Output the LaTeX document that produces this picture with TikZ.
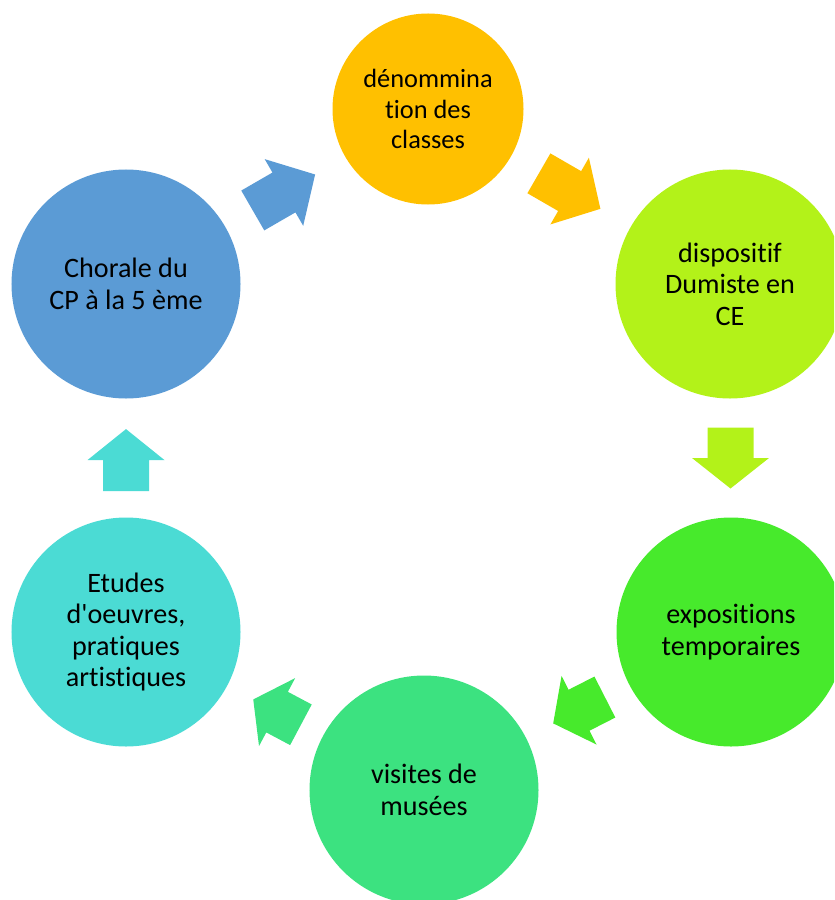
\documentclass[tikz,border=0pt]{standalone}
\usepackage{fontspec}
\setmainfont{Carlito}[Ligatures={NoCommon}]
\usepackage{tikz}
\usetikzlibrary{calc}
\definecolor{cblue}{RGB}{91,155,213}
\definecolor{corange}{RGB}{255,192,0}
\definecolor{clime}{RGB}{179,242,25}
\definecolor{cgreen}{RGB}{71,234,44}
\definecolor{cmint}{RGB}{60,226,128}
\definecolor{cteal}{RGB}{75,219,212}
\tikzset{
  bubble/.style={circle,draw=none,minimum size=6.87cm,inner sep=0pt,
    align=center,font=\fontsize{24}{27}\selectfont},
  smallbubble/.style={minimum size=5.73cm,font=\fontsize{22.5}{26}\selectfont},
  % block arrows between the bubbles, #1 = half length (px)
  pics/flow/.style={code={
    \fill[pic actions] (-#1,-23) -- (0,-23) -- (0,-38.5) -- (#1,0)
      -- (0,38.5) -- (0,23) -- (-#1,23) -- cycle;}}
}

\begin{document}
\begin{tikzpicture}[x=0.03cm,y=0.03cm]
\clip (0,0) rectangle (834,-900);
% ---------------- bubbles ----------------
\node[bubble,smallbubble,fill=corange] (denom) at (428,-109)
  {dénommina\\tion des\\classes};
\node[bubble,fill=clime] (dumiste) at (730,-284) {dispositif\\Dumiste en\\CE};
\node[bubble,fill=cgreen] (expo) at (731,-632) {expositions\\temporaires};
\node[bubble,fill=cmint] (musees) at (424,-790) {visites de\\musées};
\node[bubble,fill=cteal] (etudes) at (126,-632)
  {Etudes\\d\textquotesingle oeuvres,\\pratiques\\artistiques};
\node[bubble,fill=cblue] (chorale) at (126,-284) {Chorale du\\CP à la 5 ème};
% ---------------- block arrows ----------------
\pic[fill=cblue,rotate=30] at ($(chorale)!0.523!(denom)$) {flow=36};
\pic[fill=corange,rotate=-30] at ($(denom)!0.469!(dumiste)$) {flow=35.5};
\pic[fill=clime,rotate=-90] at ($(dumiste)!0.5!(expo)$) {flow=30.5};
\pic[fill=cgreen,rotate=207] at ($(expo)!0.495!(musees)$) {flow=29};
\pic[fill=cmint,rotate=152] at ($(musees)!0.493!(etudes)$) {flow=27};
\pic[fill=cteal,rotate=90] at ($(etudes)!0.494!(chorale)$) {flow=31};
\end{tikzpicture}
\end{document}
